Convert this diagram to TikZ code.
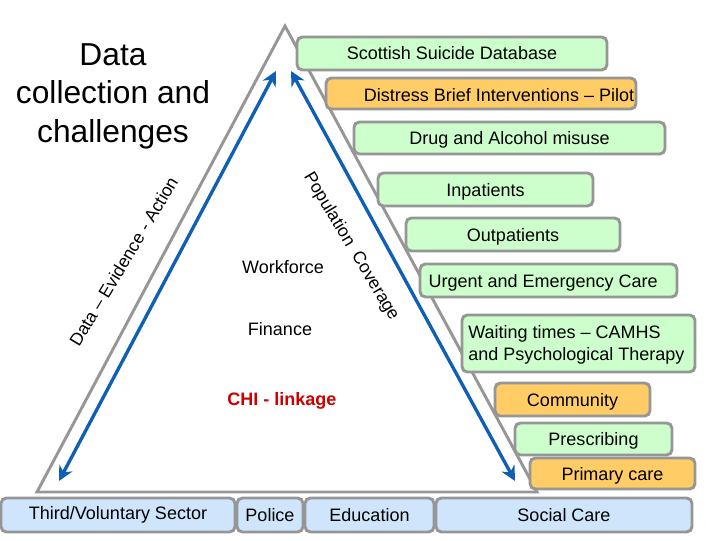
\documentclass[tikz,border=0pt]{standalone}
\usepackage{fontspec}
\setmainfont{Liberation Sans}
\usetikzlibrary{arrows.meta}
\definecolor{edgegray}{HTML}{969696}
\definecolor{fillgreen}{HTML}{CCFFCC}
\definecolor{fillorange}{HTML}{FFCC66}
\definecolor{fillblue}{HTML}{CFE5FB}
\definecolor{arrowblue}{HTML}{0F5FB5}
\definecolor{chired}{HTML}{CC0000}
\tikzset{
  x=0.75pt,y=-0.75pt,
  boxbase/.style={draw=edgegray,line width=2.2pt,rounded corners=4pt,inner sep=0pt,outer sep=0pt,font=\fontsize{13.5}{16.5}\selectfont,anchor=north west,align=center},
  greenbox/.style={boxbase,fill=fillgreen},
  orangebox/.style={boxbase,fill=fillorange},
  bluebox/.style={boxbase,fill=fillblue},
  plainlabel/.style={font=\fontsize{13.5}{16}\selectfont,inner sep=0pt},
  rotlabel/.style={font=\fontsize{13.2}{16}\selectfont,inner sep=0pt},
  bigarrow/.style={draw=arrowblue,line width=2.5pt,{Stealth[length=11pt,width=11pt]}-{Stealth[length=11pt,width=11pt]}},
  pyramid/.style={draw=edgegray,line width=2.2pt,line join=miter}
}
\newcommand{\pxbox}[7]{% name, style, x0,y0,x1,y1,text
  \pgfmathsetmacro{\bw}{(#5-#3)*0.75}\pgfmathsetmacro{\bh}{(#6-#4)*0.75}
  \node[#2,minimum width=\bw pt,minimum height=\bh pt] (#1) at (#3,#4) {#7};}
\newcommand{\dn}[1]{\raisebox{-1.5pt}[\height][\depth]{#1}}
\begin{document}
\begin{tikzpicture}
\useasboundingbox (0,0) rectangle (720,540);
\coordinate (apex) at (285,26);
\coordinate (baseL) at (37,492);
\coordinate (baseR) at (537,492);
\draw[pyramid] (apex) -- (baseR) -- (baseL) -- cycle;
\coordinate (lTop) at (276,71);
\coordinate (lBot) at (59,481);
\coordinate (rTop) at (291,71);
\coordinate (rBot) at (515,481);
\draw[bigarrow] (lTop) -- (lBot);
\draw[bigarrow] (rTop) -- (rBot);
\node[font=\fontsize{23.8}{28.9}\selectfont,align=center,inner sep=0pt] (title) at (113,96) {Data\\collection and\\challenges};
\node[rotlabel,rotate=59] (deaLabel) at (123.5,261.5) {Data – Evidence - Action};
\node[rotlabel,rotate=-59] (popLabel) at (351,246.5) {Population\hspace{0.55em}Coverage};
\node[plainlabel] (workforce) at (283,267) {Workforce};
\node[plainlabel] (finance) at (280,329.5) {Finance};
\node[plainlabel,font=\fontsize{13.5}{16}\selectfont\bfseries,text=chired] (chi) at (282,400.5) {CHI - linkage};
\pxbox{ssd}{greenbox}{297}{37}{607}{70}{Scottish Suicide Database}
\pxbox{dbi}{orangebox}{326}{78}{636}{109}{\hspace*{27pt}\dn{Distress Brief Interventions – Pilot}}
\pxbox{drug}{greenbox}{354}{122}{665}{154}{\dn{Drug and Alcohol misuse}}
\pxbox{inpat}{greenbox}{378}{173}{593}{206}{\dn{Inpatients}}
\pxbox{outpat}{greenbox}{406}{218}{620}{251}{\dn{Outpatients}}
\pxbox{urgent}{greenbox}{420}{264}{677}{297}{\dn{Urgent and Emergency Care}\hspace*{8pt}}
\pxbox{waiting}{greenbox}{462}{315}{695}{372}{}
\node[font=\fontsize{13.5}{16.5}\selectfont,align=left,inner sep=0pt,anchor=west] (waitingText) at (468,345) {Waiting times – CAMHS\\and Psychological Therapy};
\pxbox{community}{orangebox}{495}{383}{650}{416}{\dn{Community}}
\pxbox{prescribing}{greenbox}{515}{423}{672}{455}{\dn{Prescribing}}
\pxbox{primary}{orangebox}{530}{458}{695}{489}{\dn{Primary care}}
\pxbox{third}{bluebox}{1}{498}{235}{532}{Third/Voluntary Sector}
\pxbox{police}{bluebox}{237}{498}{303}{532}{Police}
\pxbox{education}{bluebox}{305}{498}{434}{532}{Education}
\pxbox{social}{bluebox}{436}{498}{692}{532}{Social Care}
\end{tikzpicture}
\end{document}
